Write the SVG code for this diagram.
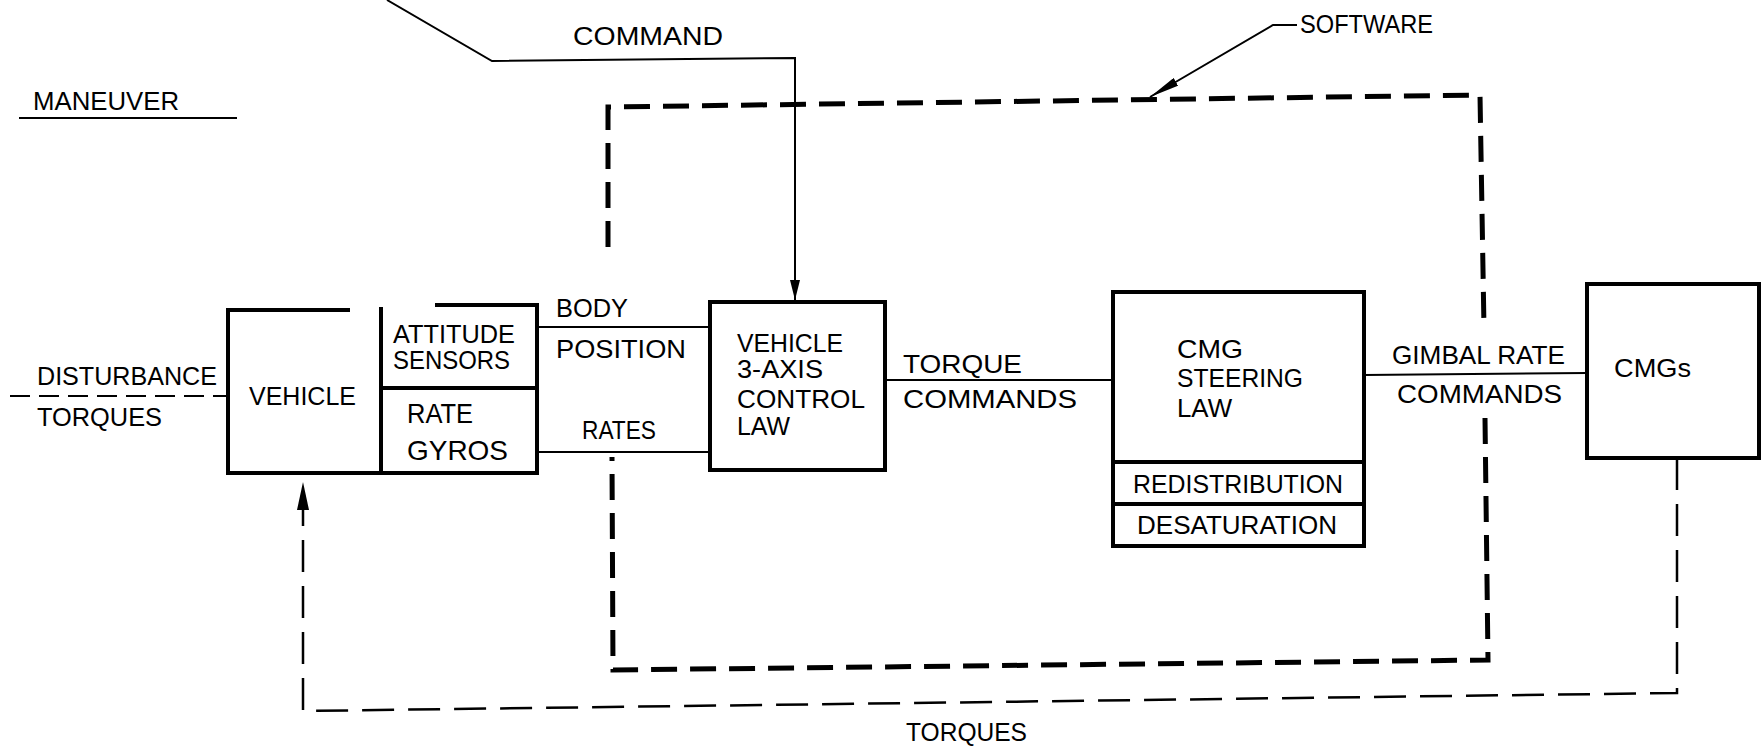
<svg xmlns="http://www.w3.org/2000/svg" width="1764" height="748" viewBox="0 0 1764 748">
<defs>
<style>
.box{fill:none;stroke:#000;stroke-width:4;stroke-linejoin:miter}
.ln{fill:none;stroke:#000;stroke-width:2}
.dist{fill:none;stroke:#000;stroke-width:2;stroke-dasharray:20 9}
.fb{fill:none;stroke:#000;stroke-width:2.5;stroke-dasharray:32 14}
.sw{fill:none;stroke:#000;stroke-width:5;stroke-dasharray:26 13}
text{font-family:"Liberation Sans",Arial,sans-serif;font-size:25px;fill:#000}
.big{font-size:28px}
</style>
<marker id="arrCmd" viewBox="0 0 20 10" refX="20" refY="5" markerWidth="20" markerHeight="10" markerUnits="userSpaceOnUse" orient="auto"><path d="M0,0 L20,5 L0,10 z" fill="#000"/></marker>
<marker id="arrFb" viewBox="0 0 28 12" refX="28" refY="6" markerWidth="28" markerHeight="12" markerUnits="userSpaceOnUse" orient="auto"><path d="M0,0 L28,6 L0,12 z" fill="#000"/></marker>
<marker id="arrLead" viewBox="0 0 30 9" refX="30" refY="4.5" markerWidth="30" markerHeight="9" markerUnits="userSpaceOnUse" orient="auto"><path d="M0,0 L30,4.5 L0,9 z" fill="#000"/></marker>
</defs>
<rect x="0" y="0" width="1764" height="748" fill="#fff"/>

<g id="connectors">
  <polyline class="ln" points="387,0 492,61 795,58 795,300" marker-end="url(#arrCmd)"/>
  <line class="ln" x1="19" y1="118" x2="237" y2="118"/>
  <line class="dist" x1="10" y1="396" x2="228" y2="396"/>
  <line class="ln" x1="537" y1="327" x2="710" y2="327"/>
  <line class="ln" x1="537" y1="452" x2="710" y2="452"/>
  <line class="ln" x1="885" y1="380" x2="1113" y2="380"/>
  <line class="ln" x1="1364" y1="375" x2="1587" y2="373"/>
  <path class="fb" d="M1677,458 L1677,693 L303,711 L303,482" marker-end="url(#arrFb)"/>
</g>

<g id="labels">
  <text x="33" y="110" textLength="146" lengthAdjust="spacingAndGlyphs">MANEUVER</text>
  <text x="573" y="45" textLength="150" lengthAdjust="spacingAndGlyphs">COMMAND</text>
  <text x="37" y="385" textLength="180" lengthAdjust="spacingAndGlyphs">DISTURBANCE</text>
  <text x="37" y="426" textLength="125" lengthAdjust="spacingAndGlyphs">TORQUES</text>
  <text x="556" y="317" textLength="72" lengthAdjust="spacingAndGlyphs">BODY</text>
  <text x="556" y="358" textLength="130" lengthAdjust="spacingAndGlyphs">POSITION</text>
  <text x="582" y="439" textLength="74" lengthAdjust="spacingAndGlyphs">RATES</text>
  <text x="903" y="373" textLength="119" lengthAdjust="spacingAndGlyphs">TORQUE</text>
  <text x="903" y="408" textLength="174" lengthAdjust="spacingAndGlyphs">COMMANDS</text>
  <text x="1392" y="364" textLength="173" lengthAdjust="spacingAndGlyphs">GIMBAL RATE</text>
  <text x="1397" y="403" textLength="165" lengthAdjust="spacingAndGlyphs">COMMANDS</text>
  <text x="906" y="741" textLength="121" lengthAdjust="spacingAndGlyphs">TORQUES</text>
</g>

<g id="software">
  <path class="sw" d="M608,247 L608,107 L1480,95 L1484,328"/>
  <path class="sw" d="M1485,418 L1488,660 L613,670 L612,457"/>
  <polyline class="ln" points="1297,25 1273,25 1150,97" marker-end="url(#arrLead)"/>
  <text x="1300" y="33" textLength="133" lengthAdjust="spacingAndGlyphs">SOFTWARE</text>
</g>

<g id="vehicle">
  <path class="box" d="M350,310 H228 V473 H537 V305 H435"/>
  <line class="box" x1="381" y1="307" x2="381" y2="473"/>
  <text x="249" y="405" textLength="107" lengthAdjust="spacingAndGlyphs">VEHICLE</text>
</g>

<g id="attitude-sensors">
  <line class="box" x1="381" y1="388" x2="537" y2="388"/>
  <text x="393" y="343" textLength="122" lengthAdjust="spacingAndGlyphs">ATTITUDE</text>
  <text x="393" y="369" textLength="117" lengthAdjust="spacingAndGlyphs">SENSORS</text>
</g>

<g id="rate-gyros">
  <text class="big" x="407" y="423" textLength="66" lengthAdjust="spacingAndGlyphs">RATE</text>
  <text class="big" x="407" y="460" textLength="101" lengthAdjust="spacingAndGlyphs">GYROS</text>
</g>

<g id="control-law">
  <rect class="box" x="710" y="302" width="175" height="168"/>
  <text x="737" y="352" textLength="106" lengthAdjust="spacingAndGlyphs">VEHICLE</text>
  <text x="737" y="378" textLength="86" lengthAdjust="spacingAndGlyphs">3-AXIS</text>
  <text x="737" y="408" textLength="128" lengthAdjust="spacingAndGlyphs">CONTROL</text>
  <text x="737" y="435" textLength="53" lengthAdjust="spacingAndGlyphs">LAW</text>
</g>

<g id="cmg-steering-law">
  <rect class="box" x="1113" y="292" width="251" height="254"/>
  <line class="box" x1="1113" y1="462" x2="1364" y2="462"/>
  <text x="1177" y="358" textLength="66" lengthAdjust="spacingAndGlyphs">CMG</text>
  <text x="1177" y="387" textLength="126" lengthAdjust="spacingAndGlyphs">STEERING</text>
  <text x="1177" y="417" textLength="55" lengthAdjust="spacingAndGlyphs">LAW</text>
</g>

<g id="redistribution">
  <line class="box" x1="1113" y1="504" x2="1364" y2="504"/>
  <text x="1133" y="493" textLength="210" lengthAdjust="spacingAndGlyphs">REDISTRIBUTION</text>
</g>

<g id="desaturation">
  <text x="1137" y="534" textLength="200" lengthAdjust="spacingAndGlyphs">DESATURATION</text>
</g>

<g id="cmgs">
  <rect class="box" x="1587" y="284" width="172" height="174"/>
  <text x="1614" y="377" textLength="77" lengthAdjust="spacingAndGlyphs">CMGs</text>
</g>
</svg>
